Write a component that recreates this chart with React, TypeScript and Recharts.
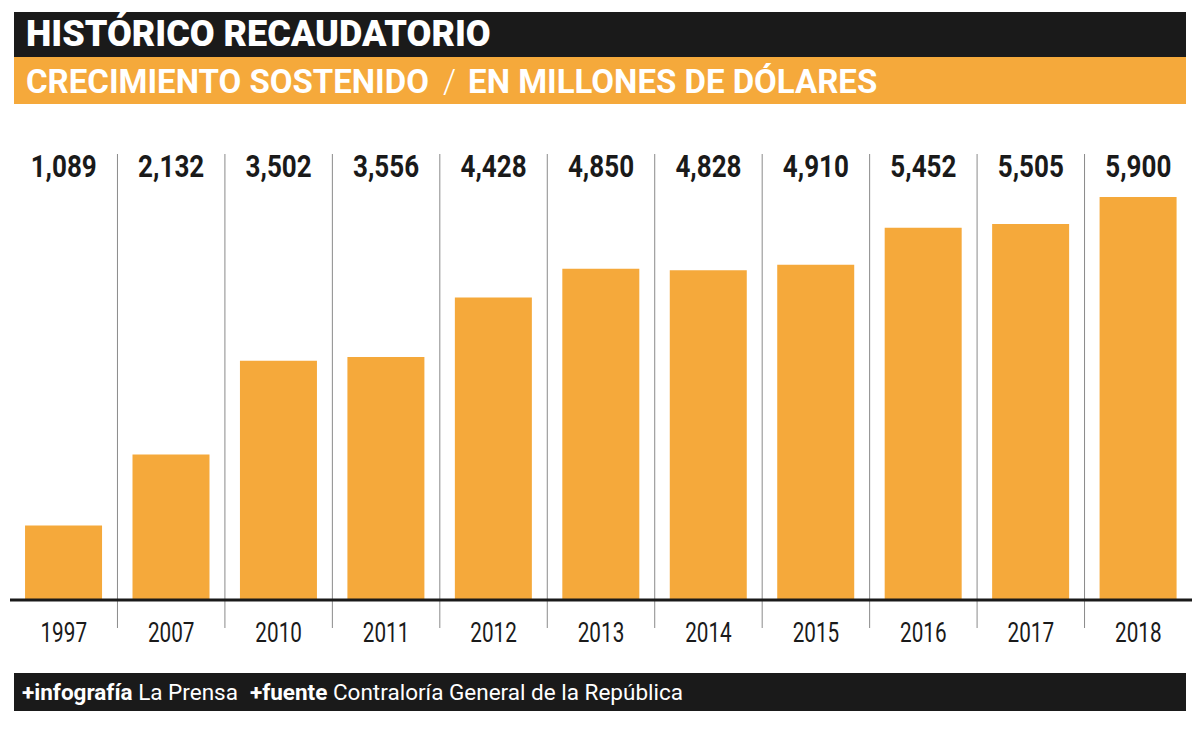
import React from "react";
import { BarChart, Bar, XAxis, YAxis, CartesianGrid } from "recharts";

const YEARS = ["1997", "2007", "2010", "2011", "2012", "2013", "2014", "2015", "2016", "2017", "2018"];
const RECAUDACION = [1089, 2132, 3502, 3556, 4428, 4850, 4828, 4910, 5452, 5505, 5900];

const ORANGE = "#F5A93B";
const INK = "#1a1a1a";
const FONT = "Roboto, 'Noto Sans', sans-serif";

const data = YEARS.map((year, i) => ({ year, value: RECAUDACION[i] }));
const valueByYear: Record<string, number> = Object.fromEntries(data.map((d) => [d.year, d.value]));

// value labels sit on a mirrored top axis, so they line up on one row
const ValueTick = ({ x, y, payload }: any) => (
  <g transform={`translate(${x},${y})`}>
    <text
      x={0}
      y={23}
      textAnchor="middle"
      transform="scale(0.84,1)"
      fill={INK}
      fontFamily={FONT}
      fontWeight={700}
      fontSize={31}
    >
      {valueByYear[payload.value].toLocaleString("en-US")}
    </text>
  </g>
);

const YearTick = ({ x, y, payload }: any) => (
  <g transform={`translate(${x},${y})`}>
    <text
      x={0}
      y={42}
      textAnchor="middle"
      transform="scale(0.74,1)"
      fill={INK}
      fontFamily={FONT}
      fontWeight={400}
      fontSize={28}
    >
      {payload.value}
    </text>
  </g>
);

const App = () => {
  return (
    <div style={{ position: "absolute", left: 0, top: 0, width: 1200, height: 729, background: "#fff", fontFamily: FONT }}>
      <div
        style={{
          position: "absolute",
          left: 14,
          top: 12,
          width: 1160,
          height: 45,
          paddingLeft: 12,
          background: INK,
          color: "#fff",
          fontSize: 36,
          fontWeight: 900,
          lineHeight: "45px",
          whiteSpace: "pre",
        }}
      >
        HISTÓRICO RECAUDATORIO
      </div>
      <div
        style={{
          position: "absolute",
          left: 14,
          top: 57,
          width: 1160,
          height: 47,
          paddingLeft: 12,
          background: ORANGE,
          color: "#fff",
          fontSize: 33,
          fontWeight: 700,
          lineHeight: "49px",
          whiteSpace: "pre",
          overflow: "hidden",
        }}
      >
        CRECIMIENTO SOSTENIDO
        <span style={{ fontWeight: 300, margin: "0 12px 0 14px" }}>/</span>
        EN MILLONES DE DÓLARES
      </div>

      <BarChart
        width={1200}
        height={729}
        data={data}
        margin={{ top: 154, right: 8, bottom: 89, left: 10 }}
        barCategoryGap="14%"
      >
        <CartesianGrid
          horizontal={false}
          stroke="#8a8a8a"
          strokeWidth={1}
          y={154}
          height={474}
          verticalCoordinatesGenerator={({ offset }: any) =>
            YEARS.slice(1).map((_, i) => offset.left + ((i + 1) * offset.width) / YEARS.length)
          }
        />
        <YAxis hide domain={[0, 6530]} />
        <XAxis
          xAxisId="top"
          dataKey="year"
          orientation="top"
          mirror
          axisLine={false}
          tickLine={false}
          tickSize={0}
          tickMargin={0}
          interval={0}
          tick={<ValueTick />}
        />
        <Bar dataKey="value" fill={ORANGE} isAnimationActive={false} />
        <XAxis
          dataKey="year"
          height={40}
          axisLine={{ stroke: INK, strokeWidth: 3 }}
          tickLine={false}
          tickSize={0}
          tickMargin={0}
          interval={0}
          tick={<YearTick />}
        />
      </BarChart>

      <div
        style={{
          position: "absolute",
          left: 14,
          top: 673,
          width: 1164,
          height: 38,
          paddingLeft: 8,
          background: INK,
          color: "#fff",
          fontSize: 22.5,
          lineHeight: "38px",
          whiteSpace: "pre",
        }}
      >
        <b>+infografía</b> La Prensa<b style={{ marginLeft: 12 }}>+fuente</b> Contraloría General de la República
      </div>
    </div>
  );
};

export default App;
